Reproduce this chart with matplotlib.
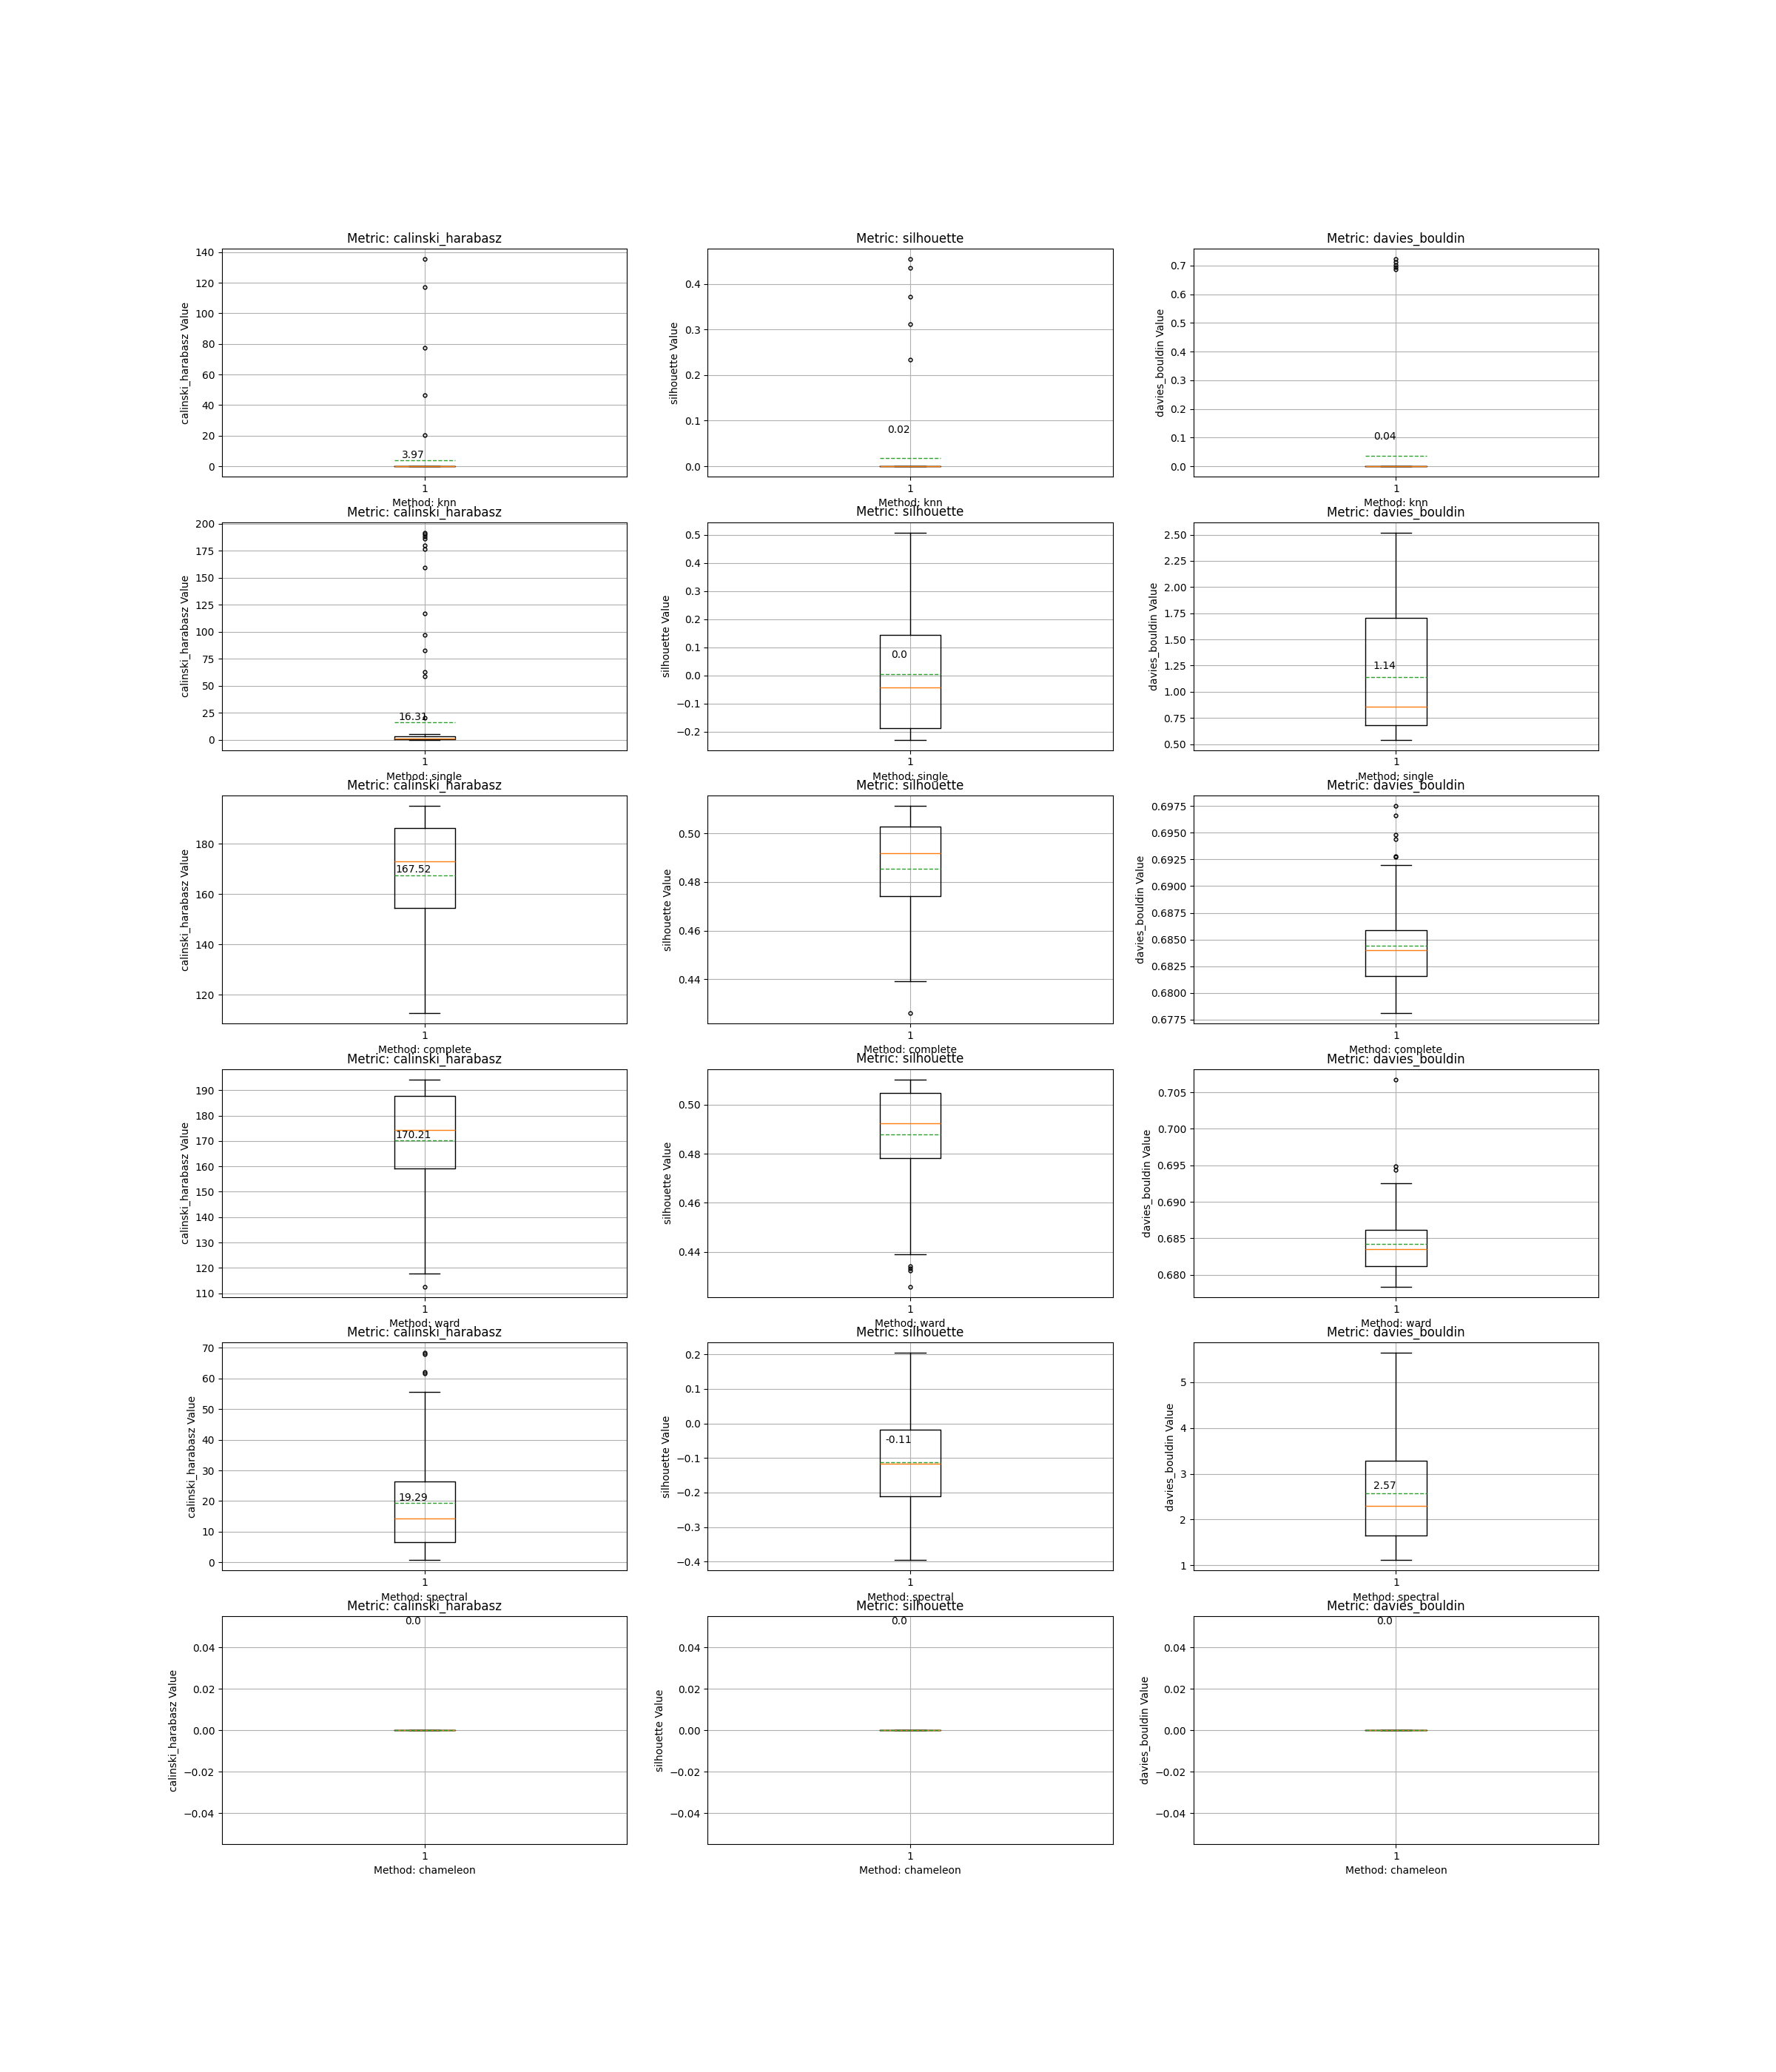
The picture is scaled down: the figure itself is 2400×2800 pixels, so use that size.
import matplotlib
matplotlib.use('Agg')
import matplotlib.pyplot as plt

methods = ['knn', 'single', 'complete', 'ward', 'spectral', 'chameleon']
metrics = ['calinski_harabasz', 'silhouette', 'davies_bouldin']

# calinski_harabasz box stats per method
ch_q1 = [0.0, 0.5, 154.5, 159.1, 6.5, 0.0]
ch_med = [0.0, 1.4, 172.95, 174.4, 14.2, 0.0]
ch_q3 = [0.0, 3.0, 186.2, 187.7, 26.5, 0.0]
ch_lo = [0.0, 0.0, 112.6, 117.9, 0.7, 0.0]
ch_hi = [0.0, 5.5, 195.0, 194.2, 55.5, 0.0]
ch_mean = [3.97, 16.31, 167.52, 170.21, 19.29, 0.0]
ch_fliers = [
    [135.5, 117.0, 77.5, 46.5, 20.5],
    [192.0, 190.4, 188.6, 186.1, 180.2, 176.5, 159.4, 117.0, 97.1, 82.8, 62.9, 58.8, 20.5],
    [],
    [112.6],
    [68.3, 68.0, 62.2, 61.7],
    [],
]

# silhouette box stats per method
sil_q1 = [0.0, -0.187, 0.4741, 0.4783, -0.211, 0.0]
sil_med = [0.0, -0.042, 0.4918, 0.4924, -0.117, 0.0]
sil_q3 = [0.0, 0.144, 0.5029, 0.5048, -0.017, 0.0]
sil_lo = [0.0, -0.229, 0.4391, 0.4391, -0.396, 0.0]
sil_hi = [0.0, 0.508, 0.5113, 0.5103, 0.204, 0.0]
sil_mean = [0.018, 0.004, 0.4854, 0.4879, -0.113, 0.0]
sil_fliers = [
    [0.455, 0.436, 0.372, 0.312, 0.234],
    [],
    [0.426],
    [0.4342, 0.4332, 0.4325, 0.4258],
    [],
    [],
]

# davies_bouldin box stats per method
db_q1 = [0.0, 0.683, 0.6816, 0.68118, 1.646, 0.0]
db_med = [0.0, 0.860, 0.6840, 0.68355, 2.292, 0.0]
db_q3 = [0.0, 1.708, 0.6859, 0.68618, 3.277, 0.0]
db_lo = [0.0, 0.542, 0.6781, 0.67838, 1.113, 0.0]
db_hi = [0.0, 2.521, 0.6920, 0.69257, 5.635, 0.0]
db_mean = [0.036, 1.143, 0.6844, 0.68426, 2.567, 0.0]
db_fliers = [
    [0.723, 0.712, 0.702, 0.694, 0.686],
    [],
    [0.6975, 0.6966, 0.6948, 0.6944, 0.6928, 0.6927],
    [0.70676, 0.69486, 0.69436],
    [],
    [],
]

all_stats = {
    'calinski_harabasz': (ch_q1, ch_med, ch_q3, ch_lo, ch_hi, ch_mean, ch_fliers),
    'silhouette': (sil_q1, sil_med, sil_q3, sil_lo, sil_hi, sil_mean, sil_fliers),
    'davies_bouldin': (db_q1, db_med, db_q3, db_lo, db_hi, db_mean, db_fliers),
}

fig, axes = plt.subplots(len(methods), len(metrics), figsize=(24, 28))

for i, method in enumerate(methods):
    for j, metric in enumerate(metrics):
        ax = axes[i, j]
        q1, med, q3, lo, hi, mean, fliers = all_stats[metric]
        stats = [{
            'q1': q1[i], 'med': med[i], 'q3': q3[i],
            'whislo': lo[i], 'whishi': hi[i],
            'mean': mean[i], 'fliers': fliers[i], 'label': '1',
        }]
        ax.bxp(stats, showmeans=True, meanline=True,
               flierprops=dict(marker='o', markersize=3.5,
                               markerfacecolor='none', markeredgecolor='black'))
        # mean value annotation
        ax.text(0.972, mean[i] + 0.05, str(round(mean[i], 2)),
                ha='center', va='bottom', clip_on=True)
        ax.set_title(f'Metric: {metric}')
        ax.set_xlabel(f'Method: {method}')
        ax.set_ylabel(f'{metric} Value')
        ax.grid(True)

plt.savefig('out.png', dpi=100)
